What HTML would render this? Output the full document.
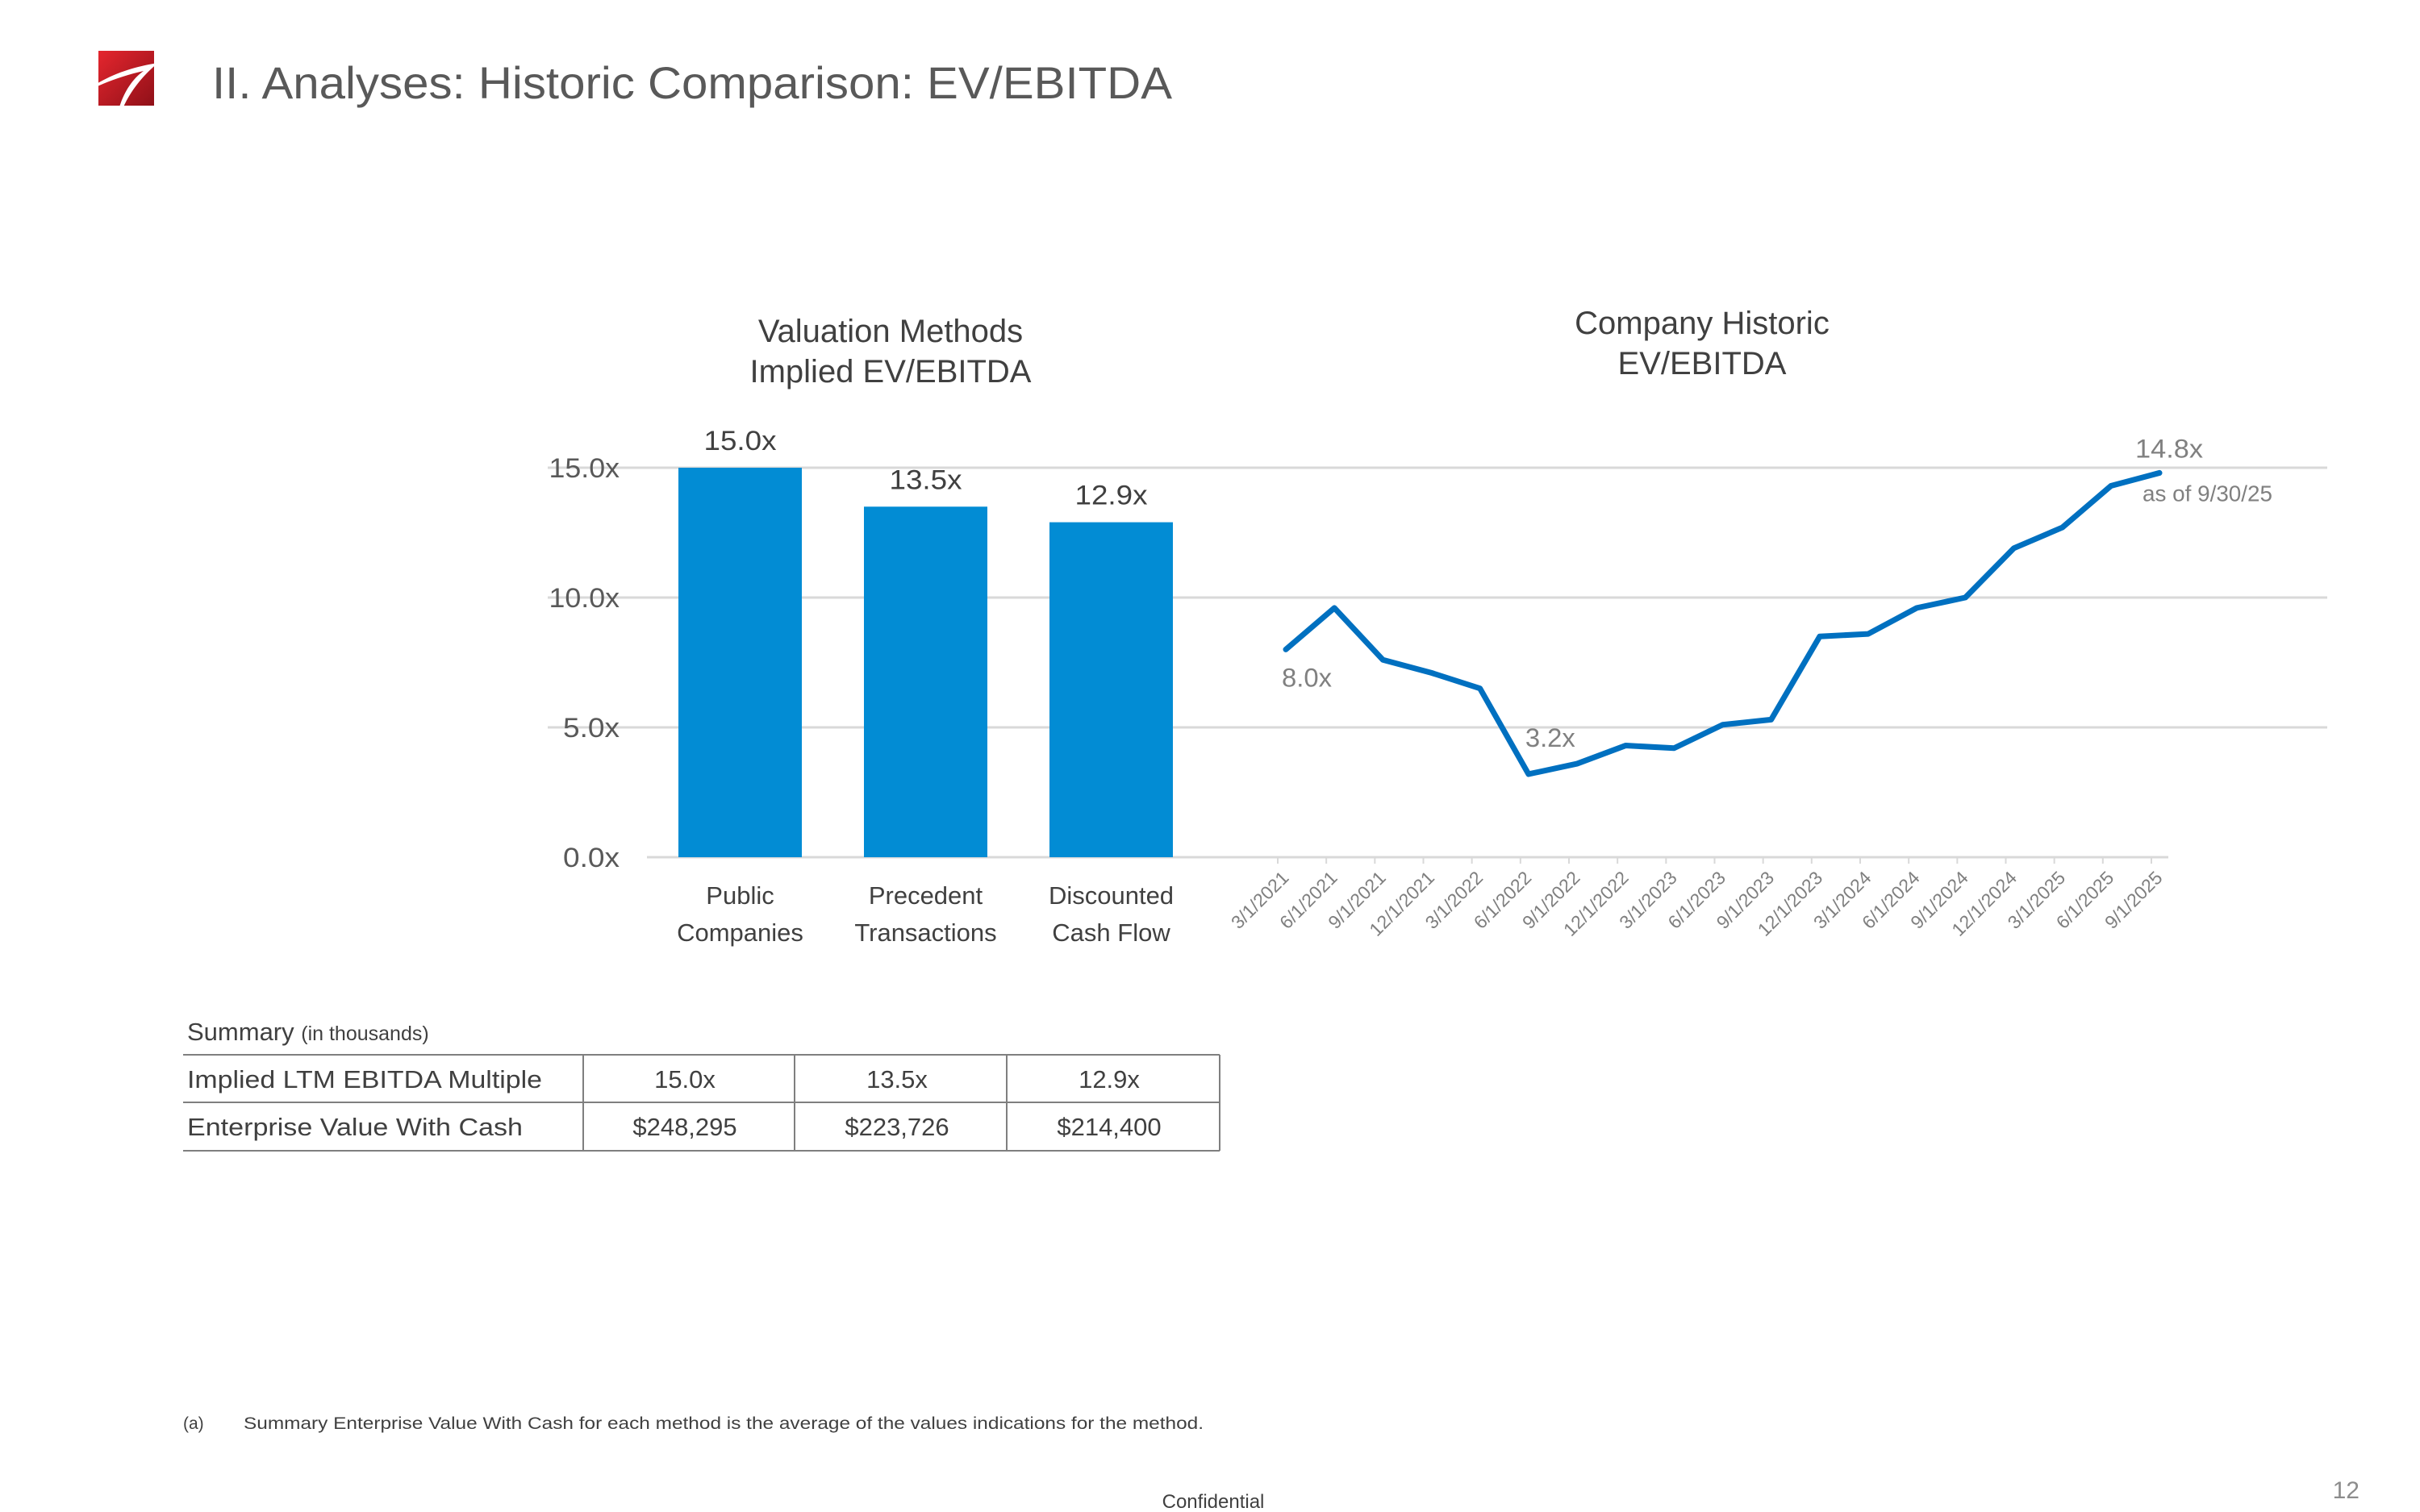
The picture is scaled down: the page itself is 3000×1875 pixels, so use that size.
<!DOCTYPE html>
<html><head><meta charset="utf-8"><style>
html,body{margin:0;padding:0;background:#fff;}
svg{display:block;font-family:"Liberation Sans",sans-serif;}
</style></head><body>
<svg id="s" width="3000" height="1875" viewBox="0 0 3000 1875" xmlns="http://www.w3.org/2000/svg">
<defs><linearGradient id="lg" x1="0" y1="0" x2="1" y2="1"><stop offset="0" stop-color="#e5262e"/><stop offset="1" stop-color="#8f1018"/></linearGradient></defs>
<g>
<rect x="122" y="63" width="69" height="68" fill="url(#lg)"/>
<path d="M110 110 C140 90 170 82 196 78 C175 95 158 118 150 140 L146 140 C152 115 165 97 178 88 C155 93 130 102 110 112 Z" fill="#fff"/>
</g>
<text x="263" y="122" font-size="56" fill="#595959" textLength="1190" lengthAdjust="spacingAndGlyphs">II. Analyses: Historic Comparison: EV/EBITDA</text>
<g fill="#404040" font-size="40" text-anchor="middle">
<text x="1104" y="424">Valuation Methods</text>
<text x="1104" y="474">Implied EV/EBITDA</text>
<text x="2110" y="414">Company Historic</text>
<text x="2110" y="464">EV/EBITDA</text>
</g>
<g id="charts"></g>
<g font-size="31" fill="#404040">
<text x="232" y="1290" font-size="31">Summary <tspan font-size="25">(in thousands)</tspan></text>
<line x1="227" y1="1308" x2="1512" y2="1308" stroke="#7f7f7f" stroke-width="2"/>
<line x1="227" y1="1367" x2="1512" y2="1367" stroke="#7f7f7f" stroke-width="2"/>
<line x1="227" y1="1427" x2="1512" y2="1427" stroke="#7f7f7f" stroke-width="2"/>
<line x1="723" y1="1308" x2="723" y2="1427" stroke="#7f7f7f" stroke-width="2"/>
<line x1="985" y1="1308" x2="985" y2="1427" stroke="#7f7f7f" stroke-width="2"/>
<line x1="1248" y1="1308" x2="1248" y2="1427" stroke="#7f7f7f" stroke-width="2"/>
<line x1="1512" y1="1308" x2="1512" y2="1427" stroke="#7f7f7f" stroke-width="2"/>
<text x="232" y="1349" textLength="440" lengthAdjust="spacingAndGlyphs">Implied LTM EBITDA Multiple</text>
<text x="232" y="1408" textLength="416" lengthAdjust="spacingAndGlyphs">Enterprise Value With Cash</text>
<g text-anchor="middle">
<text x="849" y="1349">15.0x</text><text x="1112" y="1349">13.5x</text><text x="1375" y="1349">12.9x</text>
<text x="849" y="1408">$248,295</text><text x="1112" y="1408">$223,726</text><text x="1375" y="1408">$214,400</text>
</g>
</g>
<g font-size="21" fill="#404040">
<text x="227" y="1772">(a)</text>
<text x="302" y="1772" textLength="1190" lengthAdjust="spacingAndGlyphs">Summary Enterprise Value With Cash for each method is the average of the values indications for the method.</text>
</g>
<text x="1504" y="1870" font-size="24" fill="#404040" text-anchor="middle">Confidential</text>
<text x="2925" y="1858" font-size="30" fill="#8c8c8c" text-anchor="end">12</text>
</svg>
<script>
const barCategories = [["Public","Companies"],["Precedent","Transactions"],["Discounted","Cash Flow"]];
const barValues = [15.0, 13.5, 12.9];
const barLabels = ["15.0x","13.5x","12.9x"];
const yTicks = [0, 5, 10, 15];
const yTickLabels = ["0.0x","5.0x","10.0x","15.0x"];
const lineDates = ["3/1/2021","6/1/2021","9/1/2021","12/1/2021","3/1/2022","6/1/2022","9/1/2022","12/1/2022","3/1/2023","6/1/2023","9/1/2023","12/1/2023","3/1/2024","6/1/2024","9/1/2024","12/1/2024","3/1/2025","6/1/2025","9/1/2025"];
const lineValues = [8.0,9.6,7.6,7.1,6.5,3.2,3.6,4.3,4.2,5.1,5.3,8.5,8.6,9.6,10.0,11.9,12.7,14.3,14.8];

const NS = "http://www.w3.org/2000/svg";
const g = document.getElementById("charts");
function el(tag, attrs, parent, txt){const e=document.createElementNS(NS,tag);for(const k in attrs)e.setAttribute(k,attrs[k]);if(txt!==undefined)e.textContent=txt;(parent||g).appendChild(e);return e;}
const Y0=1063, YPER=(1063-580)/15;
function y(v){return Y0 - v*YPER;}
function barX(i){return 841 + i*230;}
const BW=153;
function lineX(i){return 1594 + i*(2677-1594)/(lineDates.length-1);}

yTicks.forEach((t,i)=>{
  const ln=el("line",{x1: t===0?802:679, x2: t===0?2688:2885, y1:y(t), y2:y(t), stroke:"#d9d9d9","stroke-width":3});
  
  
  const tx=el("text",{x:768,y:y(t)+12,"font-size":34,fill:"#595959","text-anchor":"end",textLength:yTickLabels[i].length*17.5,lengthAdjust:"spacingAndGlyphs"},g,yTickLabels[i]);
  
  
});
barValues.forEach((v,i)=>{
  const r=el("rect",{x:barX(i),y:y(v),width:BW,height:Y0-y(v),fill:"#028cd4"});
  
  
  const cx=barX(i)+BW/2;
  const l=el("text",{x:cx,y:y(v)-22,"font-size":34,fill:"#404040","text-anchor":"middle",textLength:barLabels[i].length*18,lengthAdjust:"spacingAndGlyphs"},g,barLabels[i]);
  
  
  barCategories[i].forEach((s,j)=>{
    const c=el("text",{x:cx,y:1121+j*46,"font-size":31,fill:"#404040","text-anchor":"middle"},g,s);
    
    
  });
});
lineDates.forEach((d,i)=>{
  const tx=lineX(i)-10;
  const t=el("line",{x1:tx,x2:tx,y1:Y0,y2:Y0+8,stroke:"#d9d9d9","stroke-width":2});
  
  
  const lb=el("text",{x:tx+15,y:1090,"font-size":23,fill:"#7f7f7f","text-anchor":"end",transform:`rotate(-45 ${tx+15} 1090)`},g,d);
  
  
});
const pts=lineValues.map((v,i)=>lineX(i)+","+y(v)).join(" ");
const pl=el("polyline",{points:pts,fill:"none",stroke:"#0070c0","stroke-width":7,"stroke-linejoin":"round","stroke-linecap":"round"});


const n=lineValues.length-1;
const a1=el("text",{x:lineX(0)-5,y:y(lineValues[0])+46,"font-size":32,fill:"#808080",textLength:62,lengthAdjust:"spacingAndGlyphs"},g,lineValues[0].toFixed(1)+"x");


const a2=el("text",{x:lineX(5)-4,y:y(lineValues[5])-34,"font-size":32,fill:"#808080",textLength:62,lengthAdjust:"spacingAndGlyphs"},g,lineValues[5].toFixed(1)+"x");


const a3=el("text",{x:lineX(n)-30,y:y(lineValues[n])-19,"font-size":32,fill:"#808080",textLength:84,lengthAdjust:"spacingAndGlyphs"},g,lineValues[n].toFixed(1)+"x");


const a4=el("text",{x:lineX(n)-21,y:y(lineValues[n])+35,"font-size":28,fill:"#808080",textLength:161,lengthAdjust:"spacingAndGlyphs"},g,"as of 9/30/25");


</script>
</body></html>
